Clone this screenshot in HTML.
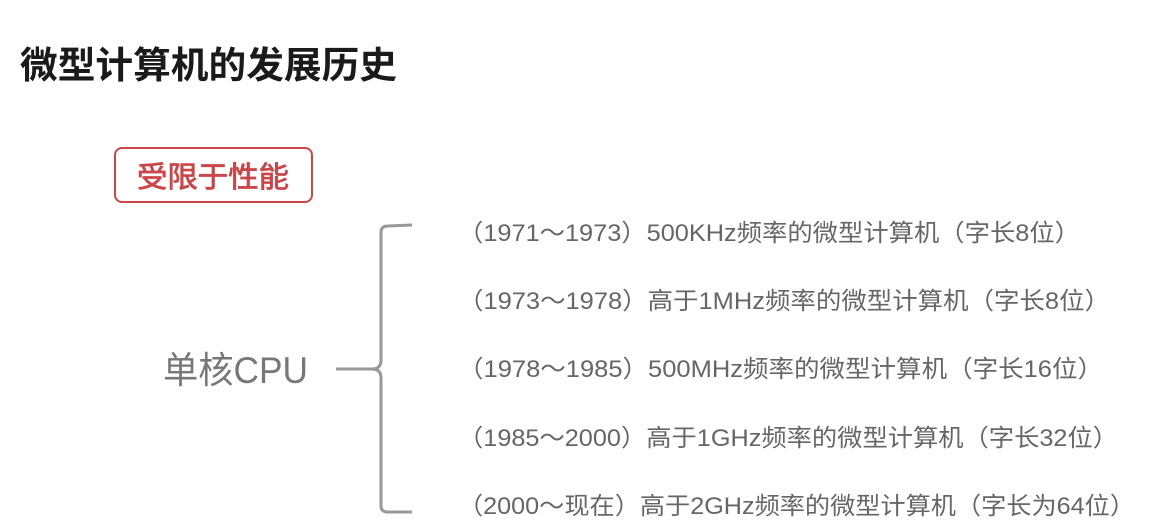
<!DOCTYPE html>
<html><head><meta charset="utf-8"><style>
html,body{margin:0;padding:0;background:#fff;width:1151px;height:528px;overflow:hidden}
svg{display:block}
text{font-family:"Liberation Sans","Noto Sans CJK SC",sans-serif}
</style></head><body>
<svg width="1151" height="528" viewBox="0 0 1151 528">
<text x="20" y="78" font-size="37" font-weight="bold" fill="#1a1a1a" textLength="377" lengthAdjust="spacingAndGlyphs">微型计算机的发展历史</text>
<rect x="115" y="148" width="197" height="54" rx="7" fill="#fff" stroke="#c9474b" stroke-width="2"/>
<text x="137" y="187" font-size="29" fill="#c9474b" stroke="#c9474b" stroke-width="0.8" textLength="152" lengthAdjust="spacingAndGlyphs">受限于性能</text>
<text x="163" y="383" font-size="37" fill="#777" textLength="145" lengthAdjust="spacingAndGlyphs">单核CPU</text>
<path d="M336 369 L372 369 Q381 369 381 360 L381 232 Q381 226 388 226 L412 225 M372 369 Q381 369 381 378 L381 506 Q381 512 388 512 L412 512" fill="none" stroke="#999" stroke-width="3"/>
<g font-size="24" fill="#666">
<text x="458" y="241" textLength="622" lengthAdjust="spacingAndGlyphs">（1971～1973）500KHz频率的微型计算机（字长8位）</text>
<text x="458" y="309" textLength="652" lengthAdjust="spacingAndGlyphs">（1973～1978）高于1MHz频率的微型计算机（字长8位）</text>
<text x="458" y="377" textLength="645" lengthAdjust="spacingAndGlyphs">（1978～1985）500MHz频率的微型计算机（字长16位）</text>
<text x="458" y="446" textLength="660" lengthAdjust="spacingAndGlyphs">（1985～2000）高于1GHz频率的微型计算机（字长32位）</text>
<text x="458" y="514" textLength="677" lengthAdjust="spacingAndGlyphs">（2000～现在）高于2GHz频率的微型计算机（字长为64位）</text>
</g>
</svg>
</body></html>
